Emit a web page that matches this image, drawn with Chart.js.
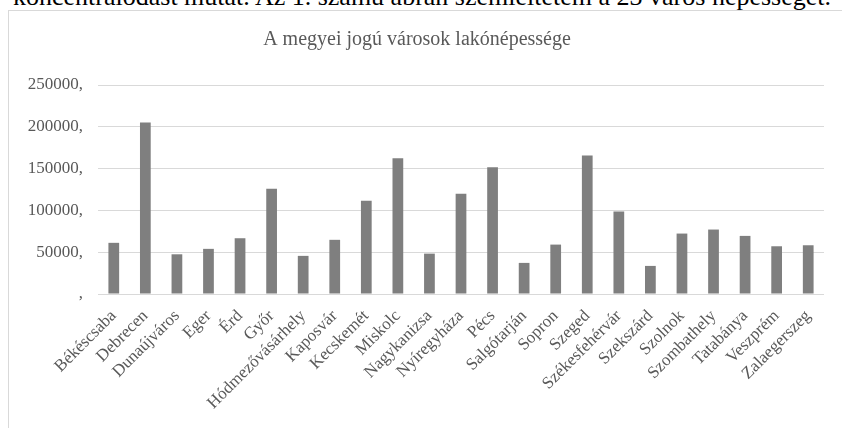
<!DOCTYPE html>
<html lang="hu">
<head>
<meta charset="utf-8">
<title>A megyei jogú városok lakónépessége</title>
<script src="https://cdn.jsdelivr.net/npm/chart.js@4.4.1/dist/chart.umd.min.js"></script>
<style>
  html, body { margin: 0; padding: 0; background: #fff; overflow: hidden; }
  body { width: 842px; height: 428px; position: relative; }
  #lead {
    position: absolute; right: 11px; top: -18px;
    font: 26px "Liberation Serif", "Times New Roman", serif;
    color: #000; white-space: nowrap;
  }
  #frame {
    position: absolute; left: 8px; top: 10px; width: 900px; height: 500px;
    border: 1px solid #d9d9d9; box-sizing: border-box;
  }
  #wrap { position: absolute; left: 0; top: 0; width: 842px; height: 428px; }
</style>
</head>
<body>
<div id="lead">koncentrálódást mutat. Az 1. számú ábrán szemléltetem a 23 város népességét.</div>
<div id="frame"></div>
<div id="wrap"><canvas id="chart"></canvas></div>
<script>
const cities = [
  "Békéscsaba", "Debrecen", "Dunaújváros", "Eger", "Érd", "Győr",
  "Hódmezővásárhely", "Kaposvár", "Kecskemét", "Miskolc", "Nagykanizsa",
  "Nyíregyháza", "Pécs", "Salgótarján", "Sopron", "Szeged",
  "Székesfehérvár", "Szekszárd", "Szolnok", "Szombathely", "Tatabánya",
  "Veszprém", "Zalaegerszeg",
];
const population = [
  61200, 205000, 47500, 54000, 66700, 126000,
  45600, 64800, 111500, 162300, 48300,
  120000, 151500, 37200, 59100, 165800,
  98700, 33600, 72300, 77100, 69500,
  57100, 58300,
];
const yTicks = [0, 50000, 100000, 150000, 200000, 250000];

const serif = '"Liberation Serif", "Times New Roman", serif';
const textGray = "#595959";

new Chart(document.getElementById("chart"), {
  type: "bar",
  data: {
    labels: cities,
    datasets: [{
      label: "Lakónépesség",
      data: population,
      backgroundColor: "#7f7f7f",
      borderWidth: 0,
      barPercentage: 0.34,
      categoryPercentage: 1,
    }],
  },
  options: {
    responsive: true,
    maintainAspectRatio: false,
    animation: false,
    layout: { padding: { left: 10, right: 18, top: 0, bottom: 0 } },
    plugins: {
      legend: { display: false },
      tooltip: { enabled: false },
      title: {
        display: true,
        text: "A megyei jogú városok lakónépessége",
        color: textGray,
        font: { family: serif, size: 20, weight: "normal", lineHeight: 1.2 },
        padding: { top: 28, bottom: 33 },
      },
    },
    scales: {
      x: {
        grid: { display: false },
        border: { display: false },
        ticks: {
          color: textGray,
          font: { family: serif, size: 17 },
          minRotation: 45,
          maxRotation: 45,
          autoSkip: false,
          padding: 4,
        },
        afterFit: (s) => { s.height = 134; },
      },
      y: {
        min: 0,
        max: yTicks[yTicks.length - 1],
        afterBuildTicks: (s) => { s.ticks = yTicks.map((v) => ({ value: v })); },
        grid: { color: "#d9d9d9", lineWidth: 1, drawTicks: false },
        border: { display: false },
        ticks: {
          color: textGray,
          font: { family: serif, size: 17 },
          padding: 15,
          callback: (v) => (v === 0 ? "," : v + ","),
        },
        afterFit: (s) => { s.width = 88; },
      },
    },
  },
});
</script>
</body>
</html>
